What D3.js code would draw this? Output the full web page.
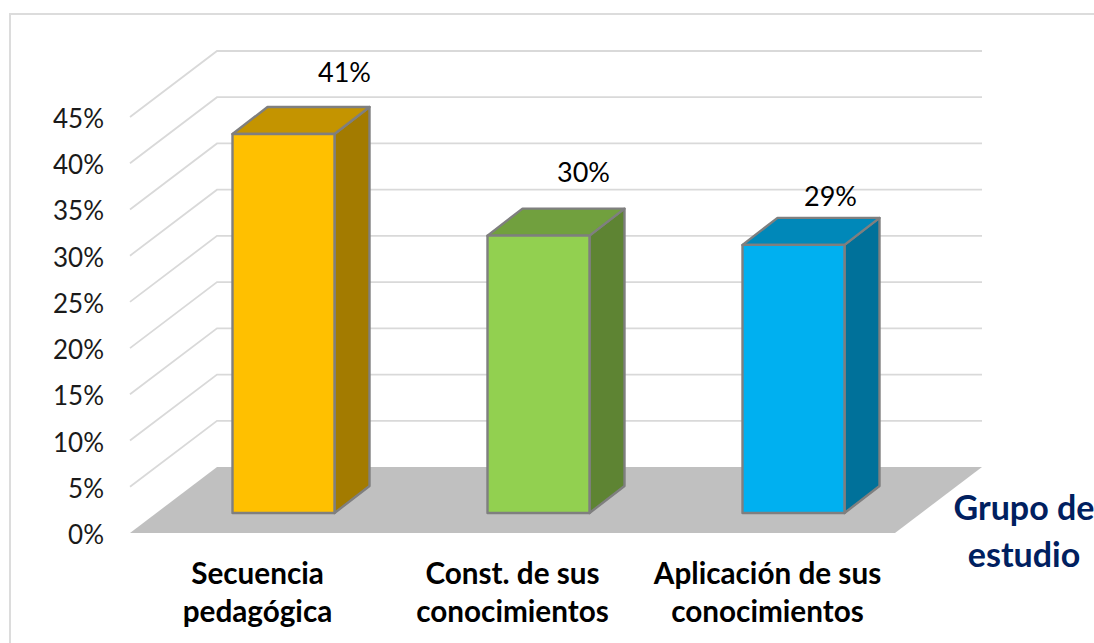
<!DOCTYPE html>
<html><head><meta charset="utf-8">
<script src="https://cdn.jsdelivr.net/npm/d3@7/dist/d3.min.js"></script>
<style>html,body{margin:0;padding:0;background:#fff;overflow:hidden}svg{display:block}text{font-family:Lato,"Open Sans",sans-serif}</style>
</head><body><svg id="c" width="1094" height="643"></svg>
<script>
const categories=[["Secuencia","pedagógica"],["Const. de sus","conocimientos"],["Aplicación de sus","conocimientos"]];
const values=[41,30,29];
const labels=["41%","30%","29%"];
const ticks=[0,5,10,15,20,25,30,35,40,45];
const faces=["#FFC000","#92D050","#00B0F0"];
const tops=["#C49400","#71A03E","#0088B9"];
const sides=["#A37B00","#5E8433","#00719A"];
const labelOffsets=[[61,-25],[45,-27],[37,-12]];

const svg=d3.select("#c");
const x=d3.scaleBand().domain([0,1,2]).range([130,895]);
const y=d3.scaleLinear().domain([0,45]).range([533,117]);
const wallDx=87,wallDy=-66,barDx=35,barDy=-27,barInsetDx=26,barInsetDy=-20,barW=102;
const line=d3.line();

svg.append("path").attr("fill","none").attr("stroke","#DCDCDC").attr("stroke-width",2)
 .attr("d",line([[10,643],[10,14],[1094,14]]));

svg.append("path").attr("fill","#C0C0C0")
 .attr("d",line([[130,y(0)],[895,y(0)],[895+wallDx,y(0)+wallDy],[130+wallDx,y(0)+wallDy]])+"Z");

svg.selectAll(".grid").data(ticks.slice(1)).join("path").attr("fill","none").attr("stroke","#D9D9D9").attr("stroke-width",1.8)
 .attr("d",t=>line([[130,y(t)],[130+wallDx,y(t)+wallDy],[895+wallDx,y(t)+wallDy]]));

svg.selectAll(".tick").data(ticks).join("text").attr("x",104).attr("y",t=>y(t)+11).attr("text-anchor","end")
 .attr("font-size",26).attr("fill","#1a1a1a").text(t=>t+"%");

const g=svg.selectAll(".bar").data(values).join("g");
g.each(function(v,i){
 const s=d3.select(this);
 const l=x(i)+x.bandwidth()/2-barW/2+barInsetDx, r=l+barW, b=y(0)+barInsetDy, t=y(v)+barInsetDy;
 const st=(p,f)=>s.append("path").attr("d",line(p)+"Z").attr("fill",f).attr("stroke","#7F7F7F").attr("stroke-width",2.4).attr("stroke-linejoin","round");
 st([[r,t],[r+barDx,t+barDy],[r+barDx,b+barDy],[r,b]],sides[i]);
 st([[l,t],[l+barDx,t+barDy],[r+barDx,t+barDy],[r,t]],tops[i]);
 st([[l,t],[r,t],[r,b],[l,b]],faces[i]);
 s.append("text").attr("x",(l+r)/2+labelOffsets[i][0]).attr("y",t+barDy+labelOffsets[i][1]).attr("text-anchor","middle").attr("font-size",27).attr("fill","#000").text(labels[i]);
 categories[i].forEach((w,k)=>s.append("text").attr("x",x(i)+x.bandwidth()/2).attr("y",584+k*38).attr("text-anchor","middle").attr("font-size",29.7).attr("font-weight",700).attr("fill","#000").text(w));
});
["Grupo de","estudio"].forEach((w,k)=>svg.append("text").attr("x",1024).attr("y",520+k*47).attr("text-anchor","middle").attr("font-size",34).attr("font-weight",700).attr("fill","#002060").text(w));
</script></body></html>
